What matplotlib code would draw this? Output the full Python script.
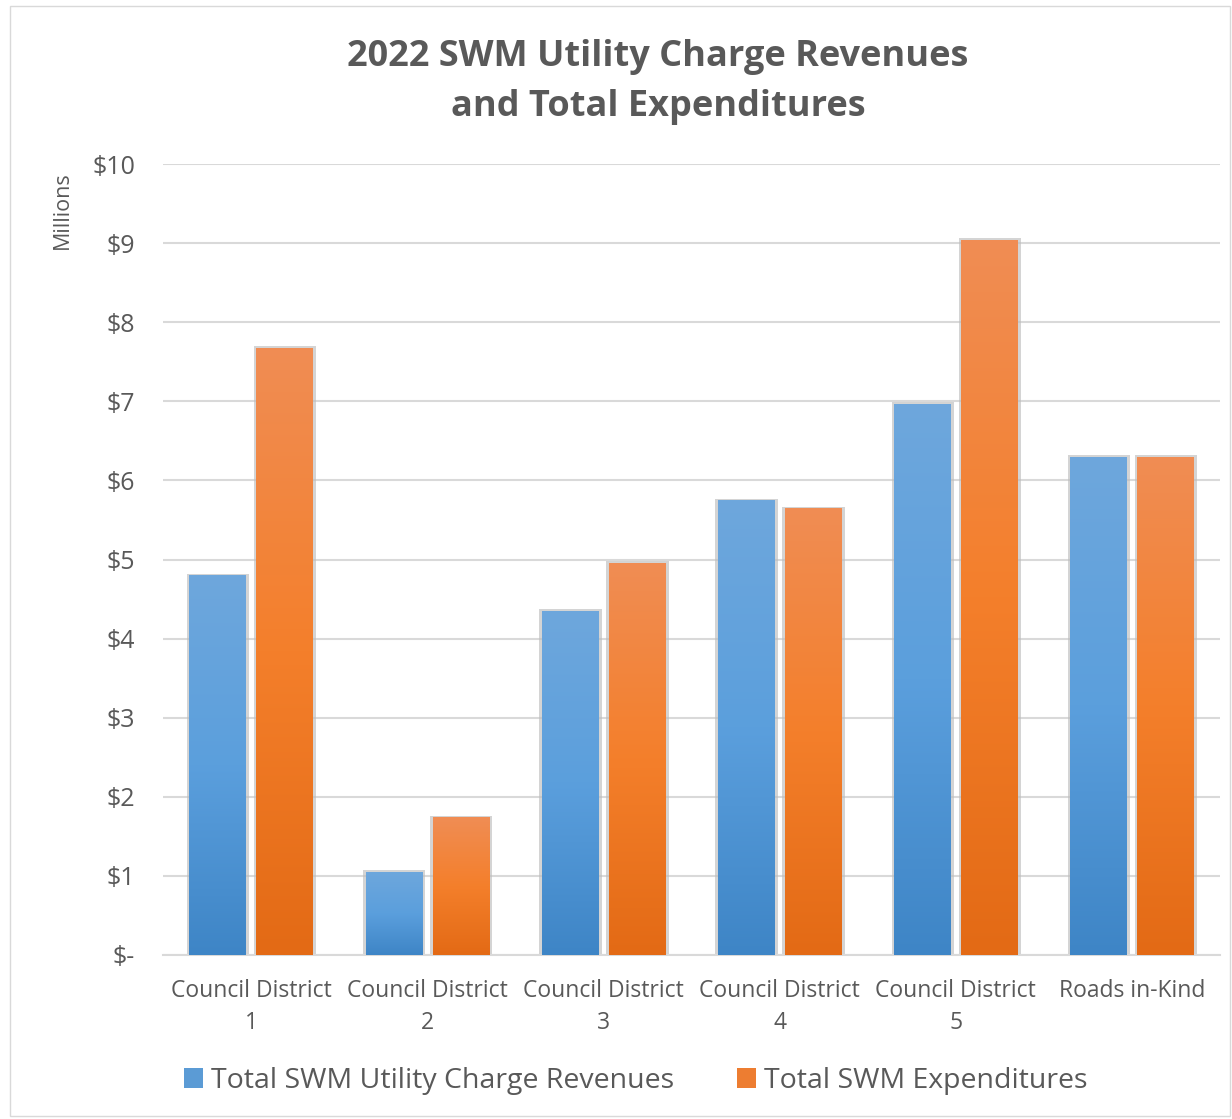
import numpy as np
import matplotlib
matplotlib.use("Agg")
import matplotlib.pyplot as plt
from matplotlib.colors import LinearSegmentedColormap
from matplotlib.patches import Rectangle

categories = ["Council District\n1", "Council District\n2", "Council District\n3",
              "Council District\n4", "Council District\n5", "Roads in-Kind"]
revenues = [4.80, 1.05, 4.35, 5.75, 6.97, 6.30]
expenditures = [7.68, 1.74, 4.96, 5.65, 9.04, 6.30]
yticks = [0, 1, 2, 3, 4, 5, 6, 7, 8, 9, 10]
ytick_labels = ["$-", "$1", "$2", "$3", "$4", "$5", "$6", "$7", "$8", "$9", "$10"]
series_names = ["Total SWM Utility Charge Revenues", "Total SWM Expenditures"]

plt.rcParams['font.family'] = ['Open Sans', 'DejaVu Sans']
txt = '#595959'

fig = plt.figure(figsize=(12.32, 11.19), dpi=100)
ax = fig.add_axes([163/1232, 1 - 955/1119, (1220-163)/1232, (955-164)/1119])

blue_cmap = LinearSegmentedColormap.from_list('b', ['#3E85C6', '#5B9FDD', '#6EA7DC'])
orange_cmap = LinearSegmentedColormap.from_list('o', ['#E36A15', '#F47F2B', '#F08D54'])

x = np.arange(len(categories))
w = 0.32
off = 0.19
grad = np.linspace(0, 1, 256).reshape(-1, 1)

def grad_bars(xs, vals, cmap):
    bars = ax.bar(xs, vals, width=w, color='none', edgecolor='none', zorder=3)
    for b in bars:
        x0, y0 = b.get_x(), b.get_y()
        bw, bh = b.get_width(), b.get_height()
        ax.add_patch(Rectangle((x0 - 0.014, y0), bw + 0.034, bh + 0.02,
                               facecolor='#BDBDBD', edgecolor='none', alpha=0.65, zorder=2))
        im = ax.imshow(grad, cmap=cmap, aspect='auto', origin='lower',
                       extent=[x0, x0 + bw, y0, y0 + bh], zorder=3)
        im.set_clip_path(b)
    return bars

grad_bars(x - off, revenues, blue_cmap)
grad_bars(x + off, expenditures, orange_cmap)

ax.set_xlim(-0.5, len(categories) - 0.5)
ax.set_ylim(0, 10)
ax.set_yticks(yticks)
ax.set_yticklabels(ytick_labels)
ax.set_xticks(x)
ax.set_xticklabels(categories, linespacing=1.45)
ax.yaxis.grid(True, color='#D9D9D9', linewidth=1.5, zorder=0)
ax.set_axisbelow(True)
for s in ['top', 'right', 'left']:
    ax.spines[s].set_visible(False)
ax.spines['bottom'].set_color('#D9D9D9')
ax.spines['bottom'].set_linewidth(1.5)
ax.tick_params(axis='both', length=0, colors=txt)
ax.tick_params(axis='x', labelsize=16.5, pad=17)
ax.tick_params(axis='y', labelsize=18, pad=20)

fig.text(62/1232, 1 - 210/1119, "Millions", rotation=90, ha='center', va='center',
         fontsize=15.5, color=txt)
fig.text(658/1232, 1 - 82/1119, "2022 SWM Utility Charge Revenues\nand Total Expenditures",
         ha='center', va='center', fontsize=26, fontweight='bold', color=txt, linespacing=1.52)

handles = [Rectangle((0, 0), 1, 1, facecolor='#5B9BD5'), Rectangle((0, 0), 1, 1, facecolor='#ED7D31')]
fig.legend(handles, series_names, loc='center', bbox_to_anchor=(636/1232, 1 - 1081/1119),
           ncol=2, frameon=False, fontsize=20.5, labelcolor=txt, handlelength=0.65,
           handleheight=0.65, handletextpad=0.3, columnspacing=2.2)

fig.add_artist(Rectangle((10/1232, 3/1119), 1220/1232, 1110/1119, transform=fig.transFigure,
                         facecolor='none', edgecolor='#D9D9D9', linewidth=1))

fig.savefig('out.png', dpi=100)
